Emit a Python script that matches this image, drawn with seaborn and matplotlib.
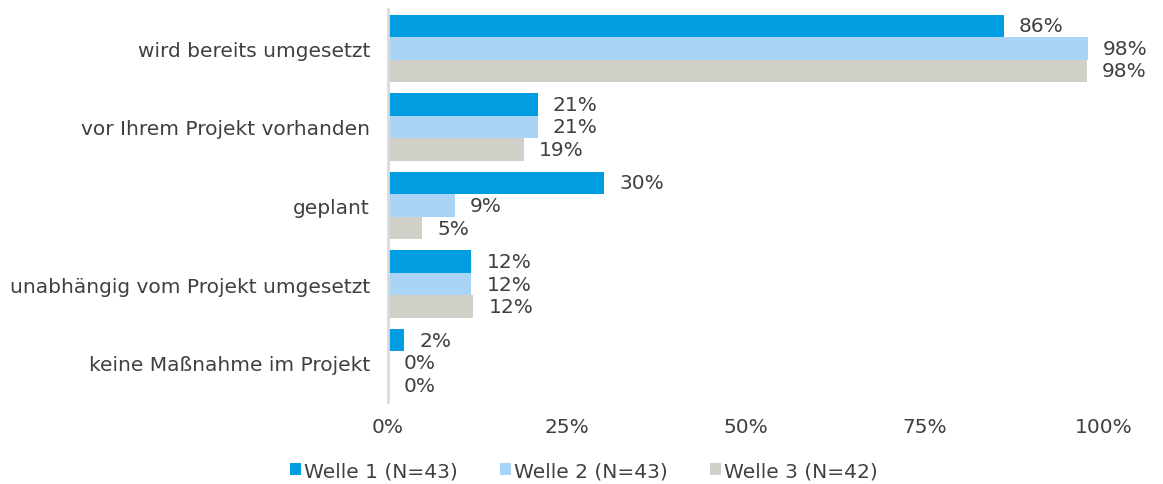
import matplotlib
matplotlib.use("Agg")
import matplotlib.pyplot as plt
import seaborn as sns
import pandas as pd

categories = ["wird bereits umgesetzt", "vor Ihrem Projekt vorhanden", "geplant",
              "unabhängig vom Projekt umgesetzt", "keine Maßnahme im Projekt"]
series = ["Welle 1 (N=43)", "Welle 2 (N=43)", "Welle 3 (N=42)"]
welle1 = [86.0, 20.9, 30.2, 11.6, 2.3]
welle2 = [97.7, 20.9, 9.3, 11.6, 0.0]
welle3 = [97.6, 19.0, 4.8, 11.9, 0.0]
xticks = [0, 25, 50, 75, 100]
colors = ["#009EE0", "#A9D4F5", "#D0D0C8"]

rows = []
for s, vals in zip(series, [welle1, welle2, welle3]):
    for c, v in zip(categories, vals):
        rows.append({"cat": c, "val": v, "series": s})
df = pd.DataFrame(rows)

sns.set_theme(style="white")
plt.rcParams["font.family"] = ["DejaVu Sans"]
FS = 14.5
TC = "#404040"

fig = plt.figure(figsize=(11.63, 4.85), dpi=100)
ax = fig.add_axes([0.3336, 1 - 403 / 485, 0.9493 - 0.3336, (403 - 10) / 485])
sns.barplot(data=df, y="cat", x="val", hue="series", palette=colors,
            order=categories, hue_order=series, width=0.86, orient="h",
            ax=ax, saturation=1, errorbar=None, linewidth=0)

for cont in ax.containers:
    ax.bar_label(cont, labels=[f"{round(b.get_width()):d}%" for b in cont],
                 padding=11, fontsize=FS, color=TC)

ax.set_xlim(0, 100)
ax.set_ylim(4.5, -0.5)
ax.set_xticks(xticks)
ax.set_xticklabels([f"{t}%" for t in xticks], fontsize=FS, color=TC)
ax.tick_params(axis="y", labelsize=FS, labelcolor=TC, length=0, pad=13)
ax.tick_params(axis="x", length=0, pad=11)
ax.set_xlabel("")
ax.set_ylabel("")
for s in ["top", "right", "bottom"]:
    ax.spines[s].set_visible(False)
ax.spines["left"].set_color("#D9D9D9")
ax.spines["left"].set_linewidth(2)

handles, labels = ax.get_legend_handles_labels()
ax.get_legend().remove()
fig.legend(handles, labels, loc="lower center", bbox_to_anchor=(0.502, -0.03),
           ncol=3, frameon=False, fontsize=FS, handlelength=0.55, handleheight=0.55,
           handletextpad=0.15, columnspacing=2.1, labelcolor=TC)

fig.savefig("out.png", dpi=100)
